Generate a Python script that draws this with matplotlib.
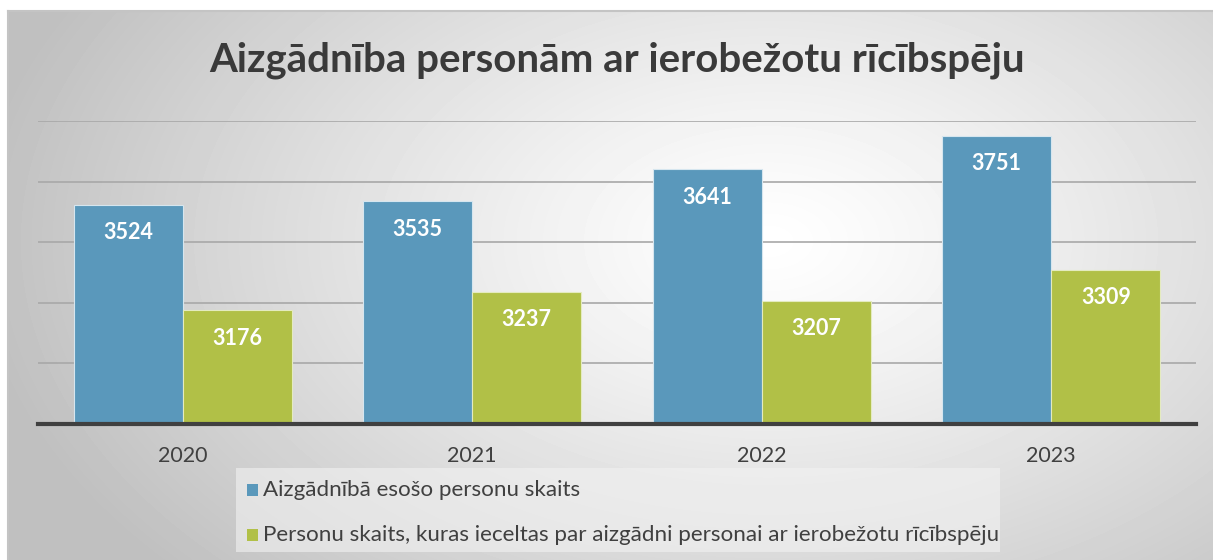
import numpy as np
import matplotlib
matplotlib.use('Agg')
import matplotlib.pyplot as plt
from matplotlib.patches import Rectangle

years = ['2020', '2021', '2022', '2023']
in_guardianship = [3524, 3535, 3641, 3751]
appointed = [3176, 3237, 3207, 3309]
series_names = ['Aizgādnībā esošo personu skaits',
                'Personu skaits, kuras ieceltas par aizgādni personai ar ierobežotu rīcībspēju']
title = 'Aizgādnība personām ar ierobežotu rīcībspēju'

plt.rcParams['font.family'] = ['Lato', 'DejaVu Sans']

W, H = 1213, 560
fig = plt.figure(figsize=(W / 100, H / 100), dpi=100)

# radial gradient background inside the chart frame
bg = fig.add_axes([8 / W, 0, 1 - 8 / W, (H - 11) / H])
yy, xx = np.mgrid[0:549, 0:1205]
cx, cy = 760, 230
r = np.sqrt(((xx - cx) / 1.0) ** 2 + ((yy - cy) * 1.6) ** 2)
shade = 1.0 - 0.25 * np.clip(r / 800, 0, 1) ** 1.2
bg.imshow(shade, cmap='gray', vmin=0, vmax=1, aspect='auto', extent=[0, 1, 0, 1])
bg.set_axis_off()
fig.add_artist(plt.Line2D([8 / W, 1], [(H - 11) / H] * 2, color='#c4c4c4', lw=1.5))
fig.add_artist(plt.Line2D([8 / W, 8 / W], [0, (H - 11) / H], color='#c4c4c4', lw=1.5))

ax = fig.add_axes([38 / W, (H - 424) / H, (1196 - 38) / W, (424 - 121) / H])
ax.patch.set_alpha(0)

x = np.arange(len(years))
bw = 0.377
b1 = ax.bar(x - bw / 2, in_guardianship, bw, color='#5a98bb', edgecolor='#d6e6ef', linewidth=0.8, zorder=3)
b2 = ax.bar(x + bw / 2, appointed, bw, color='#b1c047', edgecolor='#e4ebc0', linewidth=0.8, zorder=3)

for bars in (b1, b2):
    for rect in bars:
        ax.annotate(f'{int(rect.get_height())}',
                    (rect.get_x() + rect.get_width() / 2, rect.get_height()),
                    xytext=(0, -28), textcoords='offset pixels', ha='center', va='center',
                    color='white', fontsize=15.5, fontweight='bold', zorder=4)

ax.set_ylim(2800, 3800)
ax.set_xlim(-0.5, len(years) - 0.5)
ax.set_yticks(np.arange(3000, 3801, 200))
ax.yaxis.grid(True, color='#a8a8a8', linewidth=1.2, zorder=0)
ax.tick_params(axis='y', left=False, labelleft=False)
ax.set_xticks(x)
ax.set_xticklabels(years, fontsize=15.5, color='#404040')
ax.tick_params(axis='x', length=0, pad=16)
for s in ['top', 'right', 'left']:
    ax.spines[s].set_visible(False)
ax.spines['bottom'].set_color('#404040')
ax.spines['bottom'].set_linewidth(3)
ax.spines['bottom'].set_zorder(5)

fig.text(617 / W, 1 - 60 / H, title, ha='center', va='center', fontsize=28.9,
         fontweight='bold', color='#3a3a3a')

# legend box
fig.add_artist(Rectangle((236 / W, 1 - 552 / H), (1000 - 236) / W, (552 - 468) / H,
                         transform=fig.transFigure, facecolor='#f2f2f2', alpha=0.6,
                         edgecolor='none'))
for i, (name, col) in enumerate(zip(series_names, ['#5a98bb', '#b1c047'])):
    yc = 490 + 45 * i
    fig.add_artist(Rectangle((247 / W, 1 - (yc + 6) / H), 11 / W, 12 / H,
                             transform=fig.transFigure, facecolor=col, edgecolor='none'))
    fig.text(263 / W, 1 - yc / H, name, ha='left', va='center', fontsize=16.1, color='#404040')

fig.savefig('out.png', dpi=100)
